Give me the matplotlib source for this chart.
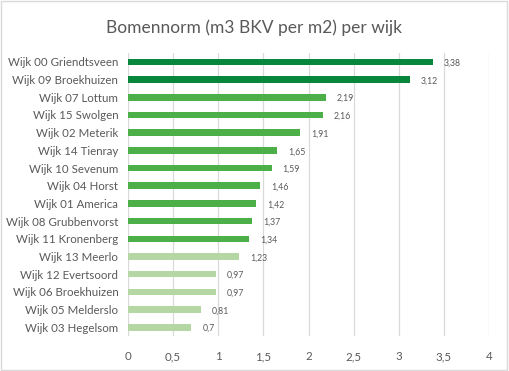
import matplotlib
matplotlib.use("Agg")
import matplotlib.pyplot as plt
from matplotlib.patches import Rectangle

categories = ["Wijk 00 Griendtsveen", "Wijk 09 Broekhuizen", "Wijk 07 Lottum", "Wijk 15 Swolgen",
              "Wijk 02 Meterik", "Wijk 14 Tienray", "Wijk 10 Sevenum", "Wijk 04 Horst",
              "Wijk 01 America", "Wijk 08 Grubbenvorst", "Wijk 11 Kronenberg", "Wijk 13 Meerlo",
              "Wijk 12 Evertsoord", "Wijk 06 Broekhuizen", "Wijk 05 Melderslo", "Wijk 03 Hegelsom"]
values = [3.38, 3.12, 2.19, 2.16, 1.91, 1.65, 1.59, 1.46, 1.42, 1.37, 1.34, 1.23, 0.97, 0.97, 0.81, 0.7]
groups = [0, 0, 1, 1, 1, 1, 1, 1, 1, 1, 1, 2, 2, 2, 2, 2]
group_colors = ["#07873b", "#4caf47", "#b5d7a3"]
xticks = [0, 0.5, 1, 1.5, 2, 2.5, 3, 3.5, 4]

plt.rcParams['font.family'] = ['Lato', 'DejaVu Sans']
fig = plt.figure(figsize=(5.09, 3.71), dpi=100)
fig.patches.append(Rectangle((0.002, 0.003), 0.995, 0.994, transform=fig.transFigure,
                             fill=False, edgecolor="#d9d9d9", linewidth=1))
ax = fig.add_axes([0.2515, 0.094, 0.7092, 0.763])

n = len(categories)
ypos = list(range(n))
colors = [group_colors[g] for g in groups]
ax.barh(ypos, values, height=0.37, color=colors, zorder=3)
ax.set_ylim(n - 0.5, -0.5)
ax.set_xlim(0, 4)
ax.set_yticks(ypos)
ax.set_yticklabels(categories, fontsize=8.3, color="#595959")
ax.set_xticks(xticks)
ax.set_xticklabels([str(t).replace(".", ",") if t % 1 else str(int(t)) for t in xticks],
                   fontsize=8.3, color="#595959")
ax.tick_params(length=0, pad=7)
ax.tick_params(axis='x', pad=11)
ax.grid(axis='x', color="#d9d9d9", linewidth=0.9, zorder=0)
for s in ax.spines.values():
    s.set_visible(False)

for y, v in zip(ypos, values):
    ax.annotate(f"{v:g}".replace(".", ","), xy=(v, y), xytext=(8, -1), textcoords="offset points",
                va="center", ha="left", fontsize=6.3, color="#595959")

fig.text(0.5, 0.925, "Bomennorm (m3 BKV per m2) per wijk", ha="center", va="center",
         fontsize=12.5, color="#595959")

fig.savefig("out.png", dpi=100)
